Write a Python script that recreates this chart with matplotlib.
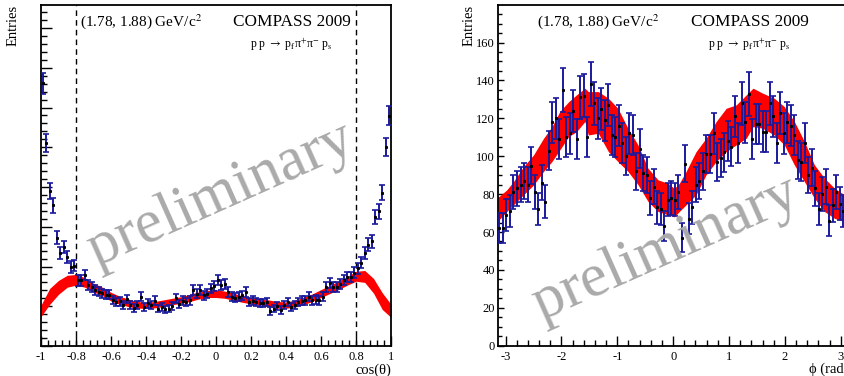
import numpy as np
import matplotlib
matplotlib.use("Agg")
import matplotlib.pyplot as plt
from matplotlib.ticker import MultipleLocator, NullFormatter

plt.rcParams['font.family'] = ['Liberation Serif', 'DejaVu Serif']
plt.rcParams['mathtext.fontset'] = 'stix'
plt.rcParams['axes.unicode_minus'] = False

# ---- left panel: cos(theta), 100 bins ----
cos_edges = (-1.0, 1.0)
cos_counts = [661, 512, 390, 354, 272, 234, 249, 224, 199, 202,
              165, 165, 179, 154, 148, 141, 137, 133, 129, 129,
              116, 110, 112, 104, 118, 102, 96, 103, 124, 98,
              107, 103, 114, 94, 98, 92, 94, 100, 120, 105,
              114, 111, 115, 141, 132, 141, 128, 132, 145, 151,
              166, 153, 157, 136, 124, 122, 124, 128, 136, 111,
              114, 111, 109, 109, 111, 88, 94, 100, 90, 103,
              111, 98, 103, 111, 114, 115, 124, 115, 117, 115,
              124, 149, 159, 149, 149, 157, 166, 173, 174, 184,
              196, 210, 234, 255, 263, 324, 339, 386, 500, 579]

cos_band_x = [-1.0, -0.95, -0.9, -0.85, -0.8, -0.75, -0.7, -0.65, -0.6, -0.55,
              -0.5, -0.45, -0.4, -0.35, -0.3, -0.25, -0.2, -0.15, -0.1, -0.05,
              0.0, 0.05, 0.1, 0.15, 0.2, 0.25, 0.3, 0.35, 0.4, 0.45,
              0.5, 0.55, 0.6, 0.65, 0.7, 0.75, 0.8, 0.85, 0.9, 0.95, 1.0]
cos_band_lo = [74, 105, 130, 148, 153, 148, 136, 127, 113, 105,
               99, 95, 95, 96, 99, 104, 107, 112, 118, 122,
               122, 120, 115, 110, 106, 103, 99, 95, 95, 98,
               104, 112, 122, 132, 142, 153, 163, 160, 133, 92, 72]
cos_band_hi = [103, 145, 165, 178, 180, 172, 158, 148, 135, 125,
               118, 112, 110, 112, 116, 120, 124, 130, 136, 140,
               142, 138, 133, 126, 122, 118, 116, 112, 111, 115,
               123, 131, 142, 152, 164, 175, 188, 190, 170, 134, 105]

# ---- right panel: phi, 100 bins over (-pi, pi) ----
phi_counts = [62, 62, 69, 71, 81, 83, 85, 87, 85, 95,
              81, 72, 86, 76, 103, 118, 120, 109, 135, 110,
              112, 124, 109, 131, 132, 110, 138, 128, 120, 125,
              119, 127, 111, 110, 116, 107, 100, 112, 111, 92,
              104, 91, 90, 78, 84, 73, 72, 63, 77, 78,
              77, 81, 57, 96, 67, 73, 85, 87, 92, 101,
              101, 112, 97, 99, 102, 108, 105, 121, 107, 128,
              118, 133, 109, 117, 117, 113, 113, 128, 121, 107,
              123, 112, 118, 116, 111, 98, 97, 107, 90, 94,
              83, 72, 80, 84, 66, 74, 81, 75, 71, 66]

phi_band_x = [-3.1416, -3.12, -2.98, -2.86, -2.68, -2.50, -2.32, -2.17, -2.03, -1.87,
              -1.73, -1.58, -1.52, -1.34, -1.16, -0.99, -0.81, -0.63, -0.45, -0.27,
              -0.09, 0.02, 0.11, 0.23, 0.41, 0.59, 0.77, 0.95, 1.13, 1.31,
              1.43, 1.60, 1.81, 1.99, 2.17, 2.35, 2.53, 2.71, 2.89, 3.07, 3.1416]
phi_band_lo = [65, 66.4, 70.8, 74.3, 79.6, 84.8, 92, 97.2, 103.3, 110.4,
               113, 118.3, 111.2, 112.1, 102.4, 97.2, 92, 85, 76.1, 70.8,
               69, 68, 70.8, 74.3, 79.6, 90.2, 97.2, 102.4, 106, 109.5,
               115.6, 114.8, 111.2, 106, 95.4, 86.6, 77.8, 70.8, 67.2, 65.5, 64]
phi_band_hi = [79, 78.7, 82.2, 86.6, 94.5, 100.7, 109.5, 115.6, 123.6, 128.8,
               132.4, 135.9, 134.1, 134.1, 130.6, 125.3, 114.8, 106, 93.6, 87.5,
               85.7, 83, 85.7, 91.9, 102.4, 109.5, 118.3, 125.3, 127.1, 132.4,
               135.9, 133.3, 130.6, 126.2, 118.3, 107.8, 95.4, 88.4, 83.1, 79.6, 79]

blue = '#1a1a9c'
gray = '#aaaaaa'
W, H = 845, 376

fig = plt.figure(figsize=(W / 100, H / 100), dpi=100)
ax1 = fig.add_axes([41 / W, 30 / H, 350 / W, 341 / H])
ax2 = fig.add_axes([497.7 / W, 30.3 / H, 350.9 / W, 340.7 / H])


def draw(ax, lo_edge, hi_edge, counts, bx, blo, bhi):
    n = len(counts)
    w = (hi_edge - lo_edge) / n
    x = lo_edge + w * (np.arange(n) + 0.5)
    y = np.array(counts, dtype=float)
    ax.fill_between(bx, blo, bhi, color='red', lw=0, zorder=2)
    ax.errorbar(x, y, yerr=np.sqrt(y), fmt='none', ecolor=blue, elinewidth=1.4,
                capsize=2.2, capthick=1.2, zorder=3)
    ax.plot(x, y, ls='none', marker='s', ms=1.2, color='black', zorder=4)


draw(ax1, cos_edges[0], cos_edges[1], cos_counts, cos_band_x, cos_band_lo, cos_band_hi)
draw(ax2, -np.pi, np.pi, phi_counts, phi_band_x, phi_band_lo, phi_band_hi)

ax1.set_xlim(-1, 1)
ax1.set_ylim(0, 858)
ax2.set_xlim(-np.pi, np.pi)
ax2.set_ylim(0, 179.8)

for xv in (-0.8, 0.8):
    ax1.axvline(xv, color='black', ls=(0, (4, 3)), lw=1.0, zorder=1)

ax1.xaxis.set_minor_locator(MultipleLocator(0.04))
ax1.yaxis.set_major_locator(MultipleLocator(100))
ax1.yaxis.set_minor_locator(MultipleLocator(20))
ax1.yaxis.set_major_formatter(NullFormatter())
ax1.set_xticks([-1, -0.8, -0.6, -0.4, -0.2, 0, 0.2, 0.4, 0.6, 0.8, 1])
ax1.set_xticklabels(['-1', '-0.8', '-0.6', '-0.4', '-0.2', '0', '0.2', '0.4', '0.6', '0.8', '1'])

ax2.xaxis.set_major_locator(MultipleLocator(1))
ax2.xaxis.set_minor_locator(MultipleLocator(0.2))
ax2.yaxis.set_major_locator(MultipleLocator(20))
ax2.yaxis.set_minor_locator(MultipleLocator(5))

for ax in (ax1, ax2):
    for sp in ax.spines.values():
        sp.set_linewidth(1.3)
    ax.tick_params(which='both', direction='in', labelsize=9, width=1.0,
                   top=False, right=False)
    ax.tick_params(axis='x', which='major', length=7.5, pad=3.5)
    ax.tick_params(axis='x', which='minor', length=4)

ax1.tick_params(axis='y', which='major', length=8)
ax1.tick_params(axis='y', which='minor', length=4)
ax2.tick_params(axis='y', which='major', length=4.5, pad=2)
ax2.tick_params(axis='y', which='minor', length=2.8)

# axis titles (ROOT style: aligned to the axis end)
ax1.text(1.0, -0.07, 'cos(θ)', transform=ax1.transAxes, ha='right', va='center', fontsize=10.5)
ax2.text(1.0, -0.07, 'ϕ (rad)', transform=ax2.transAxes, ha='right', va='center', fontsize=10.5)
fig.text(13 / W, 1 - 5 / H, 'Entries', rotation=90, ha='center', va='top', fontsize=10.5)
fig.text(469 / W, 1 - 5 / H, 'Entries', rotation=90, ha='center', va='top', fontsize=10.5)

fig.text(80 / W, 1 - 22 / H, r'(1.78, 1.88) GeV/c$^{2}$', ha='left', va='center', fontsize=11)
fig.text(537 / W, 1 - 22 / H, r'(1.78, 1.88) GeV/c$^{2}$', ha='left', va='center', fontsize=11)
fig.text(233 / W, 1 - 22 / H, 'COMPASS 2009', ha='left', va='center', fontsize=12.4)
fig.text(691 / W, 1 - 22 / H, 'COMPASS 2009', ha='left', va='center', fontsize=12.4)
reac = r'p p $\rightarrow$ p$_{\rm f}$π$^{+}$π$^{-}$ p$_{\rm s}$'
fig.text(250 / W, 1 - 45 / H, reac, ha='left', va='center', fontsize=8.5)
fig.text(708 / W, 1 - 45 / H, reac, ha='left', va='center', fontsize=8.5)

# watermark
fig.text(221 / W, 1 - 195 / H, 'preliminary', rotation=24, rotation_mode='anchor',
         ha='center', va='center', fontsize=44, color=gray, zorder=0.5)
fig.text(666 / W, 1 - 249 / H, 'preliminary', rotation=24, rotation_mode='anchor',
         ha='center', va='center', fontsize=44, color=gray, zorder=0.5)

fig.savefig('out.png', dpi=100)
